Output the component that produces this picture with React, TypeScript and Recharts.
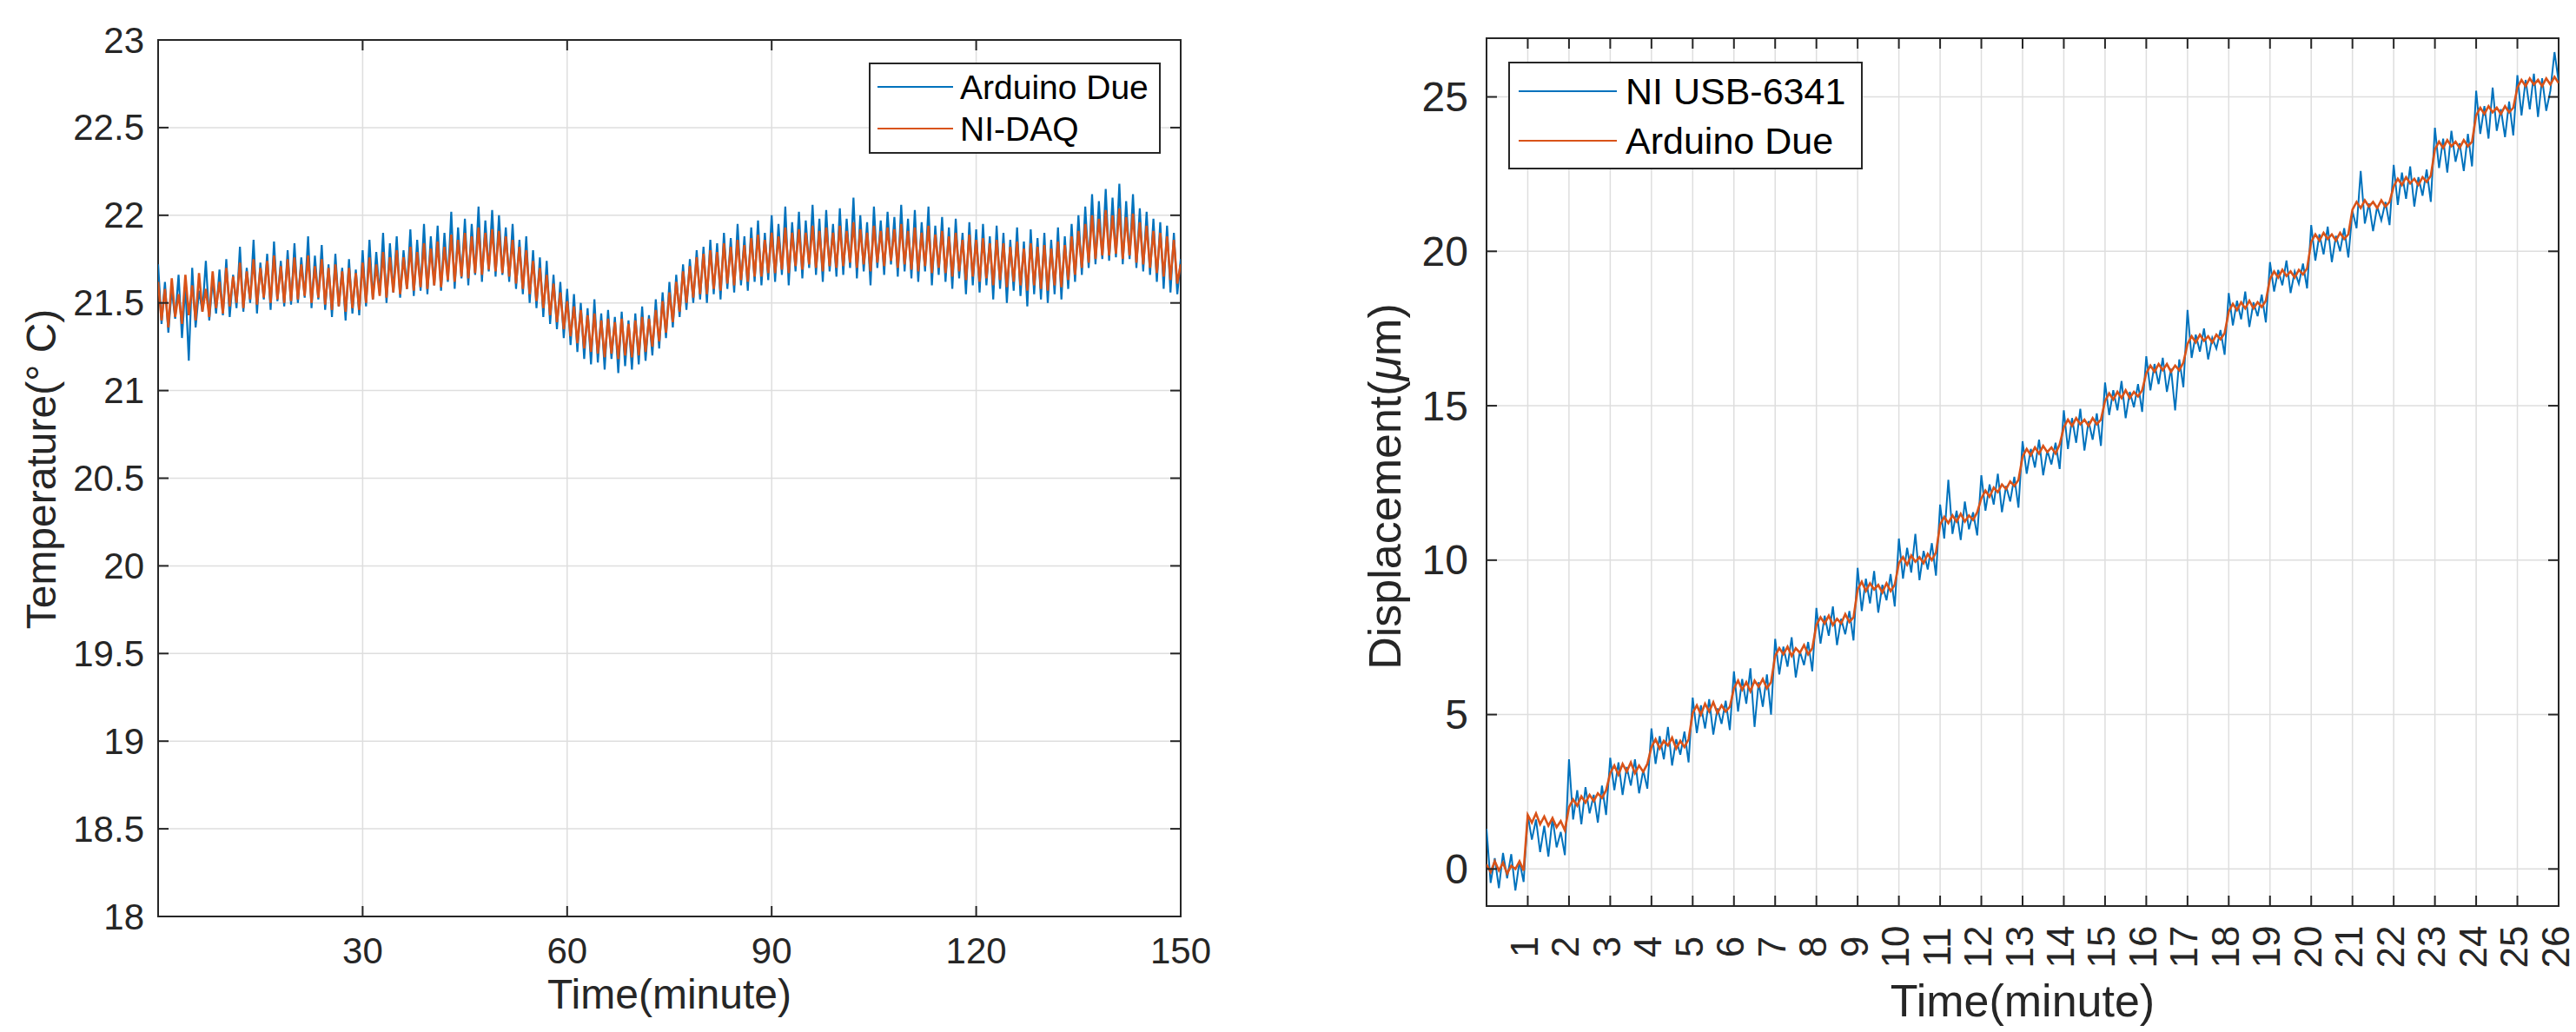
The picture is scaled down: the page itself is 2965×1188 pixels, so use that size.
import React from "react";
import {
  LineChart,
  Line,
  XAxis,
  YAxis,
  CartesianGrid,
  Legend,
  ReferenceArea,
} from "recharts";

// ---- left panel: temperature, sampled every 0.5 minute ----
const LEFT_STEP = 0.5;
const LEFT_X_TICKS = [30, 60, 90, 120, 150];
const LEFT_Y_TICKS = [18, 18.5, 19, 19.5, 20, 20.5, 21, 21.5, 22, 22.5, 23];
const LEFT_SERIES = ["Arduino Due", "NI-DAQ"];

const LEFT_ARDUINO = [
  21.72, 21.38, 21.62, 21.33, 21.58, 21.41, 21.66, 21.3, 21.6, 21.17, 21.7, 21.36, 21.57, 21.45, 21.74, 21.4, 21.63, 21.44, 21.69, 21.43,
  21.75, 21.42, 21.66, 21.47, 21.82, 21.45, 21.7, 21.5, 21.86, 21.44, 21.73, 21.52, 21.78, 21.46, 21.85, 21.51, 21.74, 21.48, 21.8, 21.49,
  21.84, 21.5, 21.76, 21.53, 21.88, 21.47, 21.77, 21.52, 21.83, 21.46, 21.72, 21.42, 21.78, 21.48, 21.7, 21.4, 21.75, 21.44, 21.69, 21.43,
  21.8, 21.48, 21.86, 21.52, 21.79, 21.55, 21.9, 21.5, 21.84, 21.56, 21.88, 21.53, 21.8, 21.58, 21.92, 21.54, 21.86, 21.57, 21.95, 21.55,
  21.88, 21.6, 21.94, 21.57, 21.9, 21.62, 22.02, 21.58, 21.93, 21.64, 21.98, 21.6, 21.95, 21.66, 22.05, 21.62, 21.97, 21.68, 22.03, 21.65,
  22.0, 21.66, 21.93, 21.62, 21.95, 21.58, 21.86, 21.55, 21.88, 21.5, 21.8, 21.47, 21.76, 21.42, 21.74, 21.38, 21.66, 21.35, 21.62, 21.3,
  21.58, 21.26, 21.55, 21.22, 21.5, 21.18, 21.47, 21.15, 21.52, 21.16, 21.44, 21.12, 21.46, 21.18, 21.42, 21.1, 21.45, 21.14, 21.4, 21.12,
  21.44, 21.15, 21.48, 21.17, 21.43, 21.2, 21.52, 21.24, 21.56, 21.3, 21.62, 21.36, 21.66, 21.42, 21.72, 21.46, 21.75, 21.5, 21.8, 21.52,
  21.82, 21.5, 21.86, 21.55, 21.84, 21.52, 21.9, 21.58, 21.87, 21.56, 21.95, 21.6, 21.88, 21.57, 21.93, 21.62, 21.97, 21.6, 21.9, 21.63,
  22.0, 21.62, 21.95, 21.66, 22.05, 21.6, 21.96, 21.68, 22.02, 21.64, 21.97, 21.7, 22.06, 21.66, 21.98, 21.62, 22.03, 21.68, 21.95, 21.65,
  22.04, 21.66, 21.98, 21.7, 22.1, 21.64, 22.0, 21.68, 21.96, 21.6, 22.05, 21.7, 21.97, 21.66, 22.02, 21.72, 21.99, 21.65, 22.06, 21.68,
  21.98, 21.64, 22.03, 21.62, 21.96, 21.68, 22.05, 21.6, 21.94, 21.66, 21.99, 21.62, 21.93, 21.58, 21.98, 21.64, 21.9, 21.55, 21.96, 21.6,
  21.92, 21.56, 21.95, 21.6, 21.88, 21.52, 21.94, 21.58, 21.9, 21.5, 21.86, 21.57, 21.93, 21.54, 21.85, 21.48, 21.92, 21.55, 21.87, 21.52,
  21.9, 21.5, 21.86, 21.55, 21.93, 21.52, 21.88, 21.58, 21.95, 21.62, 22.0, 21.66, 22.05, 21.7, 22.12, 21.72, 22.08, 21.75, 22.15, 21.74,
  22.1, 21.76, 22.18, 21.72, 22.08, 21.75, 22.12, 21.7, 22.04, 21.68, 22.02, 21.66, 21.98, 21.62, 21.96, 21.58, 21.94, 21.56, 21.9, 21.55,
  21.75,
];

const LEFT_NIDAQ = [
  21.62, 21.4, 21.58, 21.36, 21.64, 21.42, 21.55, 21.38, 21.66, 21.43, 21.6, 21.4, 21.67, 21.45, 21.58, 21.42, 21.68, 21.47, 21.62, 21.44,
  21.7, 21.48, 21.65, 21.5, 21.73, 21.47, 21.68, 21.52, 21.75, 21.49, 21.7, 21.53, 21.74, 21.5, 21.77, 21.52, 21.71, 21.5, 21.75, 21.51,
  21.76, 21.52, 21.72, 21.54, 21.77, 21.5, 21.71, 21.53, 21.75, 21.49, 21.7, 21.46, 21.72, 21.48, 21.68, 21.45, 21.7, 21.47, 21.67, 21.46,
  21.73, 21.5, 21.76, 21.52, 21.72, 21.54, 21.79, 21.53, 21.76, 21.56, 21.8, 21.55, 21.76, 21.58, 21.82, 21.57, 21.79, 21.59, 21.84, 21.58,
  21.81, 21.6, 21.85, 21.59, 21.82, 21.63, 21.89, 21.62, 21.86, 21.65, 21.9, 21.64, 21.88, 21.67, 21.93, 21.66, 21.9, 21.69, 21.92, 21.68,
  21.91, 21.67, 21.88, 21.65, 21.86, 21.61, 21.82, 21.58, 21.8, 21.55, 21.74, 21.51, 21.7, 21.47, 21.66, 21.43, 21.61, 21.39, 21.56, 21.35,
  21.51, 21.31, 21.48, 21.27, 21.46, 21.24, 21.43, 21.22, 21.44, 21.21, 21.4, 21.19, 21.41, 21.21, 21.39, 21.18, 21.41, 21.2, 21.38, 21.19,
  21.4, 21.2, 21.42, 21.22, 21.41, 21.25, 21.46, 21.28, 21.51, 21.33, 21.56, 21.39, 21.62, 21.45, 21.68, 21.5, 21.71, 21.53, 21.76, 21.55,
  21.78, 21.55, 21.8, 21.58, 21.79, 21.57, 21.84, 21.61, 21.82, 21.6, 21.86, 21.63, 21.83, 21.62, 21.87, 21.65, 21.89, 21.65, 21.86, 21.67,
  21.9, 21.67, 21.88, 21.69, 21.93, 21.67, 21.9, 21.71, 21.92, 21.69, 21.9, 21.72, 21.94, 21.7, 21.91, 21.68, 21.93, 21.71, 21.9, 21.7,
  21.94, 21.71, 21.91, 21.73, 21.96, 21.7, 21.92, 21.72, 21.9, 21.68, 21.94, 21.73, 21.91, 21.71, 21.93, 21.74, 21.92, 21.7, 21.95, 21.72,
  21.91, 21.69, 21.93, 21.68, 21.9, 21.71, 21.94, 21.67, 21.89, 21.7, 21.91, 21.67, 21.88, 21.65, 21.9, 21.68, 21.86, 21.63, 21.89, 21.65,
  21.86, 21.62, 21.87, 21.64, 21.84, 21.6, 21.86, 21.63, 21.84, 21.59, 21.82, 21.62, 21.85, 21.6, 21.81, 21.57, 21.84, 21.6, 21.82, 21.58,
  21.83, 21.57, 21.81, 21.6, 21.85, 21.59, 21.83, 21.63, 21.88, 21.66, 21.91, 21.7, 21.95, 21.73, 22.0, 21.75, 21.98, 21.77, 22.03, 21.77,
  22.0, 21.78, 22.04, 21.75, 21.99, 21.77, 22.01, 21.73, 21.96, 21.72, 21.94, 21.7, 21.91, 21.67, 21.9, 21.65, 21.88, 21.63, 21.86, 21.61,
  21.72,
];

// ---- right panel: displacement, sampled every 0.1 minute ----
const RIGHT_STEP = 0.1;
const RIGHT_X_TICKS = [1, 2, 3, 4, 5, 6, 7, 8, 9, 10, 11, 12, 13, 14, 15, 16, 17, 18, 19, 20, 21, 22, 23, 24, 25, 26];
const RIGHT_Y_TICKS = [0, 5, 10, 15, 20, 25];
const RIGHT_SERIES = ["NI USB-6341", "Arduino Due"];

const RIGHT_NI = [
  1.3, -0.45, 0.35, -0.62, 0.52, -0.3, 0.48, -0.7, 0.25, -0.42,
  1.75, 0.95, 1.6, 0.55, 1.4, 0.4, 1.65, 0.7, 1.2, 0.45,
  3.55, 1.6, 2.55, 1.45, 2.65, 1.8, 2.4, 1.5, 2.7, 1.75,
  3.6, 2.55, 3.45, 2.4, 3.3, 2.7, 3.55, 2.45, 3.2, 2.6,
  4.55, 3.4, 4.3, 3.55, 4.6, 3.35, 4.2, 3.7, 4.45, 3.45,
  5.55, 4.4, 5.3, 4.55, 5.5, 4.35, 5.2, 4.7, 5.45, 4.5,
  6.4, 5.1, 6.15, 5.35, 6.5, 4.6, 6.05, 5.25, 6.3, 5.0,
  7.45, 6.3, 7.2, 6.55, 7.5, 6.2, 7.05, 6.6, 7.35, 6.4,
  8.45, 7.3, 8.2, 7.55, 8.5, 7.25, 8.1, 7.6, 8.35, 7.4,
  9.75, 8.35, 9.4, 8.6, 9.65, 8.3, 9.2, 8.7, 9.55, 8.5,
  10.7, 9.4, 10.4, 9.6, 10.85, 9.35, 10.3, 9.7, 10.55, 9.5,
  11.8, 10.7, 12.6, 10.85, 11.6, 10.65, 11.9, 11.0, 11.55, 10.8,
  12.75, 11.6, 12.45, 11.8, 12.8, 11.55, 12.4, 11.9, 12.7, 11.7,
  13.85, 12.8, 13.6, 13.0, 13.9, 12.75, 13.55, 13.1, 13.8, 12.95,
  14.85, 13.6, 14.6, 13.8, 14.9, 13.55, 14.5, 13.9, 14.75, 13.7,
  15.75, 14.7, 15.5, 14.85, 15.8, 14.6, 15.45, 14.95, 15.7, 14.8,
  16.6, 15.5, 16.35, 15.7, 16.55, 15.45, 16.2, 14.85, 16.5, 15.6,
  18.1, 16.55, 17.3, 16.75, 17.5, 16.5, 17.2, 16.85, 17.45, 16.65,
  18.65, 17.6, 18.4, 17.8, 18.7, 17.55, 18.35, 17.9, 18.6, 17.7,
  19.65, 18.7, 19.4, 18.9, 19.7, 18.65, 19.35, 18.95, 19.6, 18.8,
  20.85, 19.7, 20.55, 19.9, 20.8, 19.65, 20.5, 20.0, 20.75, 19.8,
  21.3, 20.75, 22.6, 20.9, 21.55, 20.65, 21.45, 21.0, 21.6, 20.85,
  22.8, 21.5, 22.55, 21.7, 22.75, 21.45, 22.4, 21.8, 22.65, 21.6,
  24.0, 22.7, 23.65, 22.55, 23.9, 22.9, 23.5, 22.6, 23.8, 22.75,
  25.2, 23.8, 24.7, 23.65, 25.3, 23.9, 24.6, 23.7, 24.85, 23.75,
  25.7, 24.4, 25.55, 24.6, 25.75, 24.35, 25.6, 24.55, 25.2, 26.45,
  25.5,
];

const RIGHT_ARDUINO = [
  0.15, -0.1, 0.25, -0.05, 0.2, -0.15, 0.1, 0.0, 0.25, -0.05,
  1.75, 1.5, 1.8, 1.45, 1.7, 1.4, 1.65, 1.35, 1.55, 1.25,
  2.0, 2.25, 2.05, 2.35, 2.15, 2.4, 2.2, 2.45, 2.3, 2.55,
  3.1, 3.35, 3.05, 3.4, 3.15, 3.45, 3.1, 3.35, 3.15, 3.4,
  3.95, 4.2, 3.9, 4.15, 4.0, 4.25, 3.9, 4.15, 3.95, 4.2,
  5.05, 5.3, 5.0, 5.35, 5.1, 5.4, 5.05, 5.3, 5.1, 5.25,
  5.85, 6.1, 5.8, 6.05, 5.75, 6.1, 5.9, 6.15, 5.85, 6.05,
  6.9, 7.15, 6.95, 7.2, 6.9, 7.15, 7.0, 7.25, 6.95, 7.15,
  7.9, 8.15, 7.95, 8.2, 7.9, 8.1, 7.95, 8.25, 8.0, 8.15,
  9.05, 9.3, 9.0, 9.25, 9.05, 9.2, 8.95, 9.25, 9.0, 9.2,
  9.9, 10.1, 9.85, 10.15, 9.95, 10.1, 9.9, 10.2, 10.0, 10.25,
  11.15, 11.4, 11.2, 11.45, 11.25, 11.5, 11.25, 11.45, 11.3, 11.55,
  12.0, 12.25, 12.05, 12.35, 12.2, 12.45, 12.3, 12.55, 12.4, 12.6,
  13.35, 13.6, 13.4, 13.65, 13.45, 13.7, 13.5, 13.65, 13.45, 13.75,
  14.3, 14.55, 14.35, 14.6, 14.4, 14.55, 14.35, 14.6, 14.4, 14.55,
  15.15, 15.4, 15.2, 15.45, 15.25, 15.5, 15.25, 15.45, 15.3, 15.5,
  16.05, 16.3, 16.1, 16.35, 16.15, 16.35, 16.1, 16.3, 16.15, 16.4,
  17.0, 17.25, 17.05, 17.3, 17.1, 17.25, 17.05, 17.3, 17.15, 17.35,
  18.05, 18.3, 18.1, 18.35, 18.15, 18.4, 18.15, 18.35, 18.2, 18.4,
  19.1, 19.35, 19.15, 19.4, 19.2, 19.35, 19.15, 19.4, 19.25, 19.45,
  20.3, 20.55, 20.35, 20.6, 20.4, 20.55, 20.35, 20.6, 20.4, 20.55,
  21.35, 21.6, 21.4, 21.65, 21.45, 21.6, 21.4, 21.65, 21.45, 21.6,
  22.1, 22.35, 22.15, 22.4, 22.2, 22.35, 22.15, 22.4, 22.25, 22.45,
  23.3, 23.55, 23.35, 23.6, 23.4, 23.55, 23.35, 23.6, 23.4, 23.55,
  24.4, 24.65, 24.45, 24.7, 24.5, 24.65, 24.45, 24.7, 24.5, 24.65,
  25.3, 25.55, 25.35, 25.6, 25.4, 25.55, 25.35, 25.6, 25.4, 25.65,
  25.45,
];

const leftData = LEFT_ARDUINO.map((v, i) => ({ t: i * LEFT_STEP, arduino: v, nidaq: LEFT_NIDAQ[i] }));
const rightData = RIGHT_NI.map((v, i) => ({ t: +(i * RIGHT_STEP).toFixed(1), ni: v, arduino: RIGHT_ARDUINO[i] }));

const BLUE = "#0072BD";
const ORANGE = "#D95319";
const AX = "#262626";
const GRID = "#dedede";
const FONT = '"Liberation Sans", Arial, Helvetica, sans-serif';
const TICK_LEN = 12;

// inward MATLAB-style ticks on both sides of the box
function xTick(plotH: number, fontSize: number, labelDy: number, rotate: boolean) {
  return (p: any) => {
    const { x, y, payload } = p;
    return (
      <g>
        <line x1={x} y1={y} x2={x} y2={y - TICK_LEN} stroke={AX} strokeWidth={2} />
        <line x1={x} y1={y - plotH} x2={x} y2={y - plotH + TICK_LEN} stroke={AX} strokeWidth={2} />
        {rotate ? (
          <text
            transform={`translate(${x - 4},${y + labelDy}) rotate(-90)`}
            textAnchor="middle"
            dominantBaseline="central"
            fontSize={fontSize}
            fontFamily={FONT}
            fill={AX}
          >
            {payload.value}
          </text>
        ) : (
          <text x={x} y={y + labelDy} textAnchor="middle" dominantBaseline="central" fontSize={fontSize} fontFamily={FONT} fill={AX}>
            {payload.value}
          </text>
        )}
      </g>
    );
  };
}

function yTick(plotW: number, fontSize: number, gap: number) {
  return (p: any) => {
    const { x, y, payload } = p;
    return (
      <g>
        <line x1={x} y1={y} x2={x + TICK_LEN} y2={y} stroke={AX} strokeWidth={2} />
        <line x1={x + plotW} y1={y} x2={x + plotW - TICK_LEN} y2={y} stroke={AX} strokeWidth={2} />
        <text x={x - gap} y={y} textAnchor="end" dominantBaseline="central" fontSize={fontSize} fontFamily={FONT} fill={AX}>
          {payload.value}
        </text>
      </g>
    );
  };
}

type LegendBox = { w: number; h: number; lineX1: number; lineX2: number; textX: number; rows: number[]; fontSize: number };

function legendContent(box: LegendBox) {
  return (props: any) => (
    <div
      style={{
        position: "relative",
        width: box.w,
        height: box.h,
        boxSizing: "border-box",
        border: `2px solid ${AX}`,
        background: "#fff",
      }}
    >
      {(props.payload || []).map((item: any, i: number) => (
        <div key={i}>
          <div
            style={{
              position: "absolute",
              left: box.lineX1,
              top: box.rows[i] - 1,
              width: box.lineX2 - box.lineX1,
              height: 2,
              background: item.color,
            }}
          />
          <div
            style={{
              position: "absolute",
              left: box.textX,
              top: box.rows[i],
              transform: "translateY(-50%)",
              fontSize: box.fontSize,
              fontFamily: FONT,
              lineHeight: 1,
              whiteSpace: "nowrap",
              color: "#000",
            }}
          >
            {item.value}
          </div>
        </div>
      ))}
    </div>
  );
}

// left panel geometry
const L_W = 1400;
const L_M = { top: 46, right: 41, bottom: 13, left: 22 };
const L_YW = 160;
const L_XH = 120;
const L_PLOT_W = L_W - L_M.left - L_M.right - L_YW;
const L_PLOT_H = 1188 - L_M.top - L_M.bottom - L_XH;

// right panel geometry
const R_LEFT = 1450;
const R_W = 1515;
const R_M = { top: 44, right: 20, bottom: 25, left: 101 };
const R_YW = 160;
const R_XH = 120;
const R_PLOT_W = R_W - R_M.left - R_M.right - R_YW;
const R_PLOT_H = 1188 - R_M.top - R_M.bottom - R_XH;

function TemperatureChart() {
  return (
    <LineChart width={L_W} height={1188} data={leftData} margin={L_M}>
      <CartesianGrid stroke={GRID} strokeWidth={1.5} />
      <XAxis
        dataKey="t"
        type="number"
        domain={[0, 150]}
        ticks={LEFT_X_TICKS}
        interval={0}
        allowDataOverflow
        height={L_XH}
        axisLine={false}
        tickLine={false}
        tickSize={0}
        tickMargin={0}
        tick={xTick(L_PLOT_H, 42, 39, false)}
        label={(p: any) => (
          <text
            x={p.viewBox.x + p.viewBox.width / 2}
            y={p.viewBox.y + 89}
            textAnchor="middle"
            dominantBaseline="central"
            fontSize={48}
            fontFamily={FONT}
            fill={AX}
          >
            Time(minute)
          </text>
        )}
      />
      <YAxis
        type="number"
        domain={[18, 23]}
        ticks={LEFT_Y_TICKS}
        interval={0}
        allowDataOverflow
        width={L_YW}
        axisLine={false}
        tickLine={false}
        tickSize={0}
        tickMargin={0}
        tick={yTick(L_PLOT_W, 42, 16)}
        label={(p: any) => (
          <text
            transform={`translate(${p.viewBox.x + 25},540) rotate(-90)`}
            textAnchor="middle"
            dominantBaseline="central"
            fontSize={48}
            fontFamily={FONT}
            fill={AX}
          >
            Temperature(° C)
          </text>
        )}
      />
      <Line dataKey="arduino" name={LEFT_SERIES[0]} stroke={BLUE} strokeWidth={2.2} dot={false} isAnimationActive={false} />
      <Line dataKey="nidaq" name={LEFT_SERIES[1]} stroke={ORANGE} strokeWidth={2.6} dot={false} isAnimationActive={false} />
      <ReferenceArea x1={0} x2={150} y1={18} y2={23} fill="none" stroke={AX} strokeWidth={2} ifOverflow="visible" />
      <Legend
        layout="vertical"
        align="center"
        verticalAlign="middle"
        itemSorter={(item: any) => LEFT_SERIES.indexOf(item.value)}
        wrapperStyle={{ left: 1000, top: 72, width: 336, height: 105 }}
        content={legendContent({ w: 336, h: 105, lineX1: 8, lineX2: 95, textX: 103, rows: [26, 74], fontSize: 39 })}
      />
    </LineChart>
  );
}

function DisplacementChart() {
  return (
    <LineChart width={R_W} height={1188} data={rightData} margin={R_M}>
      <CartesianGrid stroke={GRID} strokeWidth={1.5} />
      <XAxis
        dataKey="t"
        type="number"
        domain={[0, 26]}
        ticks={RIGHT_X_TICKS}
        interval={0}
        allowDataOverflow
        height={R_XH}
        axisLine={false}
        tickLine={false}
        tickSize={0}
        tickMargin={0}
        tick={xTick(R_PLOT_H, 44, 47, true)}
        label={(p: any) => (
          <text
            x={p.viewBox.x + p.viewBox.width / 2}
            y={p.viewBox.y + 109}
            textAnchor="middle"
            dominantBaseline="central"
            fontSize={52}
            fontFamily={FONT}
            fill={AX}
          >
            Time(minute)
          </text>
        )}
      />
      <YAxis
        type="number"
        domain={[-1.2, 26.9]}
        ticks={RIGHT_Y_TICKS}
        interval={0}
        allowDataOverflow
        width={R_YW}
        axisLine={false}
        tickLine={false}
        tickSize={0}
        tickMargin={0}
        tick={yTick(R_PLOT_W, 48, 21)}
        label={(p: any) => (
          <text
            transform={`translate(${p.viewBox.x + 43},560) rotate(-90)`}
            textAnchor="middle"
            dominantBaseline="central"
            fontSize={52}
            fontFamily={FONT}
            fill={AX}
          >
            Displacement(<tspan fontStyle="italic">μ</tspan>m)
          </text>
        )}
      />
      <Line dataKey="ni" name={RIGHT_SERIES[0]} stroke={BLUE} strokeWidth={2} dot={false} isAnimationActive={false} />
      <Line dataKey="arduino" name={RIGHT_SERIES[1]} stroke={ORANGE} strokeWidth={2.6} dot={false} isAnimationActive={false} />
      <ReferenceArea x1={0} x2={26} y1={-1.2} y2={26.9} fill="none" stroke={AX} strokeWidth={2} ifOverflow="visible" />
      <Legend
        layout="vertical"
        align="center"
        verticalAlign="middle"
        itemSorter={(item: any) => RIGHT_SERIES.indexOf(item.value)}
        wrapperStyle={{ left: 286, top: 71, width: 408, height: 124 }}
        content={legendContent({ w: 408, h: 124, lineX1: 10, lineX2: 123, textX: 133, rows: [32, 89], fontSize: 43 })}
      />
    </LineChart>
  );
}

export default function App() {
  return (
    <div style={{ position: "absolute", left: 0, top: 0, width: 2965, height: 1188, background: "#fff" }}>
      <div style={{ position: "absolute", left: 0, top: 0 }}>
        <TemperatureChart />
      </div>
      <div style={{ position: "absolute", left: R_LEFT, top: 0 }}>
        <DisplacementChart />
      </div>
    </div>
  );
}
